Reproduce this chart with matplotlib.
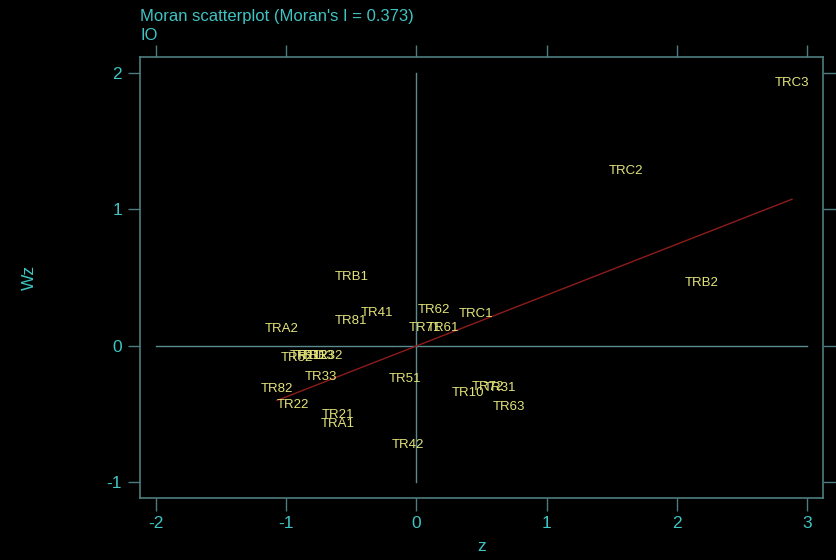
import matplotlib
matplotlib.use("Agg")
import matplotlib.pyplot as plt
import numpy as np

plt.rcParams['font.family'] = ['Liberation Sans', 'DejaVu Sans']
plt.rcParams['axes.unicode_minus'] = False

labels = ["TRC3", "TRC2", "TRB2", "TRB1", "TR62", "TRC1", "TR41", "TR81", "TRA2",
          "TR71", "TR61", "TR52", "TR11", "TR12", "TR13", "TR32", "TR33", "TR51",
          "TR82", "TR22", "TR21", "TRA1", "TR42", "TR10", "TR72", "TR31", "TR63"]
z = [2.882, 1.608, 2.191, -0.495, 0.134, 0.457, -0.303, -0.503, -1.033,
     0.066, 0.204, -0.917, -0.848, -0.802, -0.756, -0.687, -0.733, -0.088,
     -1.071, -0.948, -0.603, -0.603, -0.065, 0.395, 0.549, 0.640, 0.710]
wz = [1.927, 1.282, 0.462, 0.505, 0.264, 0.234, 0.242, 0.183, 0.125,
      0.132, 0.132, -0.088, -0.073, -0.073, -0.073, -0.073, -0.227, -0.242,
      -0.315, -0.432, -0.505, -0.571, -0.725, -0.344, -0.300, -0.308, -0.447]
moran_i = 0.373
xticks = [-2, -1, 0, 1, 2, 3]
yticks = [-1, 0, 1, 2]

teal = "#3fc4c4"
frame = "#4d7d80"
zline = "#5a8c8f"
lab_col = "#e4e47a"

fig = plt.figure(figsize=(8.36, 5.6), dpi=100, facecolor="black")
ax = fig.add_axes([140/836, 1 - 498/560, (823-140)/836, (498-57)/560])
ax.set_facecolor("black")
ax.set_xlim(-2.122, 3.120)
ax.set_ylim(-1.114, 2.117)

ax.plot([xticks[0], xticks[-1]], [0, 0], color=zline, lw=1.0, zorder=1)
ax.plot([0, 0], [yticks[0], yticks[-1]], color=zline, lw=1.0, zorder=1)

xs = np.array([min(z), max(z)])
ax.plot(xs, moran_i * xs, color="#8e1c1c", lw=1.0, zorder=2)

for lb, xv, yv in zip(labels, z, wz):
    ax.text(xv, yv, lb, color=lab_col, fontsize=9.5, ha="center", va="center", zorder=3)

for s in ax.spines.values():
    s.set_color(frame)
    s.set_linewidth(1.2)
ax.set_xticks(xticks)
ax.set_yticks(yticks)
ax.tick_params(axis="both", colors=frame, length=9, width=1.0, direction="out",
               labelcolor=teal, labelsize=12.5, top=True, right=True, pad=4)
ax.set_xlabel("z", color=teal, fontsize=12.5, labelpad=6)
ax.set_ylabel("Wz", color=teal, fontsize=12.5, labelpad=50)

fig.text(140/836, 1 - 17/560, "Moran scatterplot (Moran's I = 0.373)", color=teal,
         fontsize=12, ha="left", va="center")
fig.text(140/836, 1 - 35/560, "IO", color=teal, fontsize=12, ha="left", va="center")

fig.savefig("out.png", dpi=100, facecolor="black")
